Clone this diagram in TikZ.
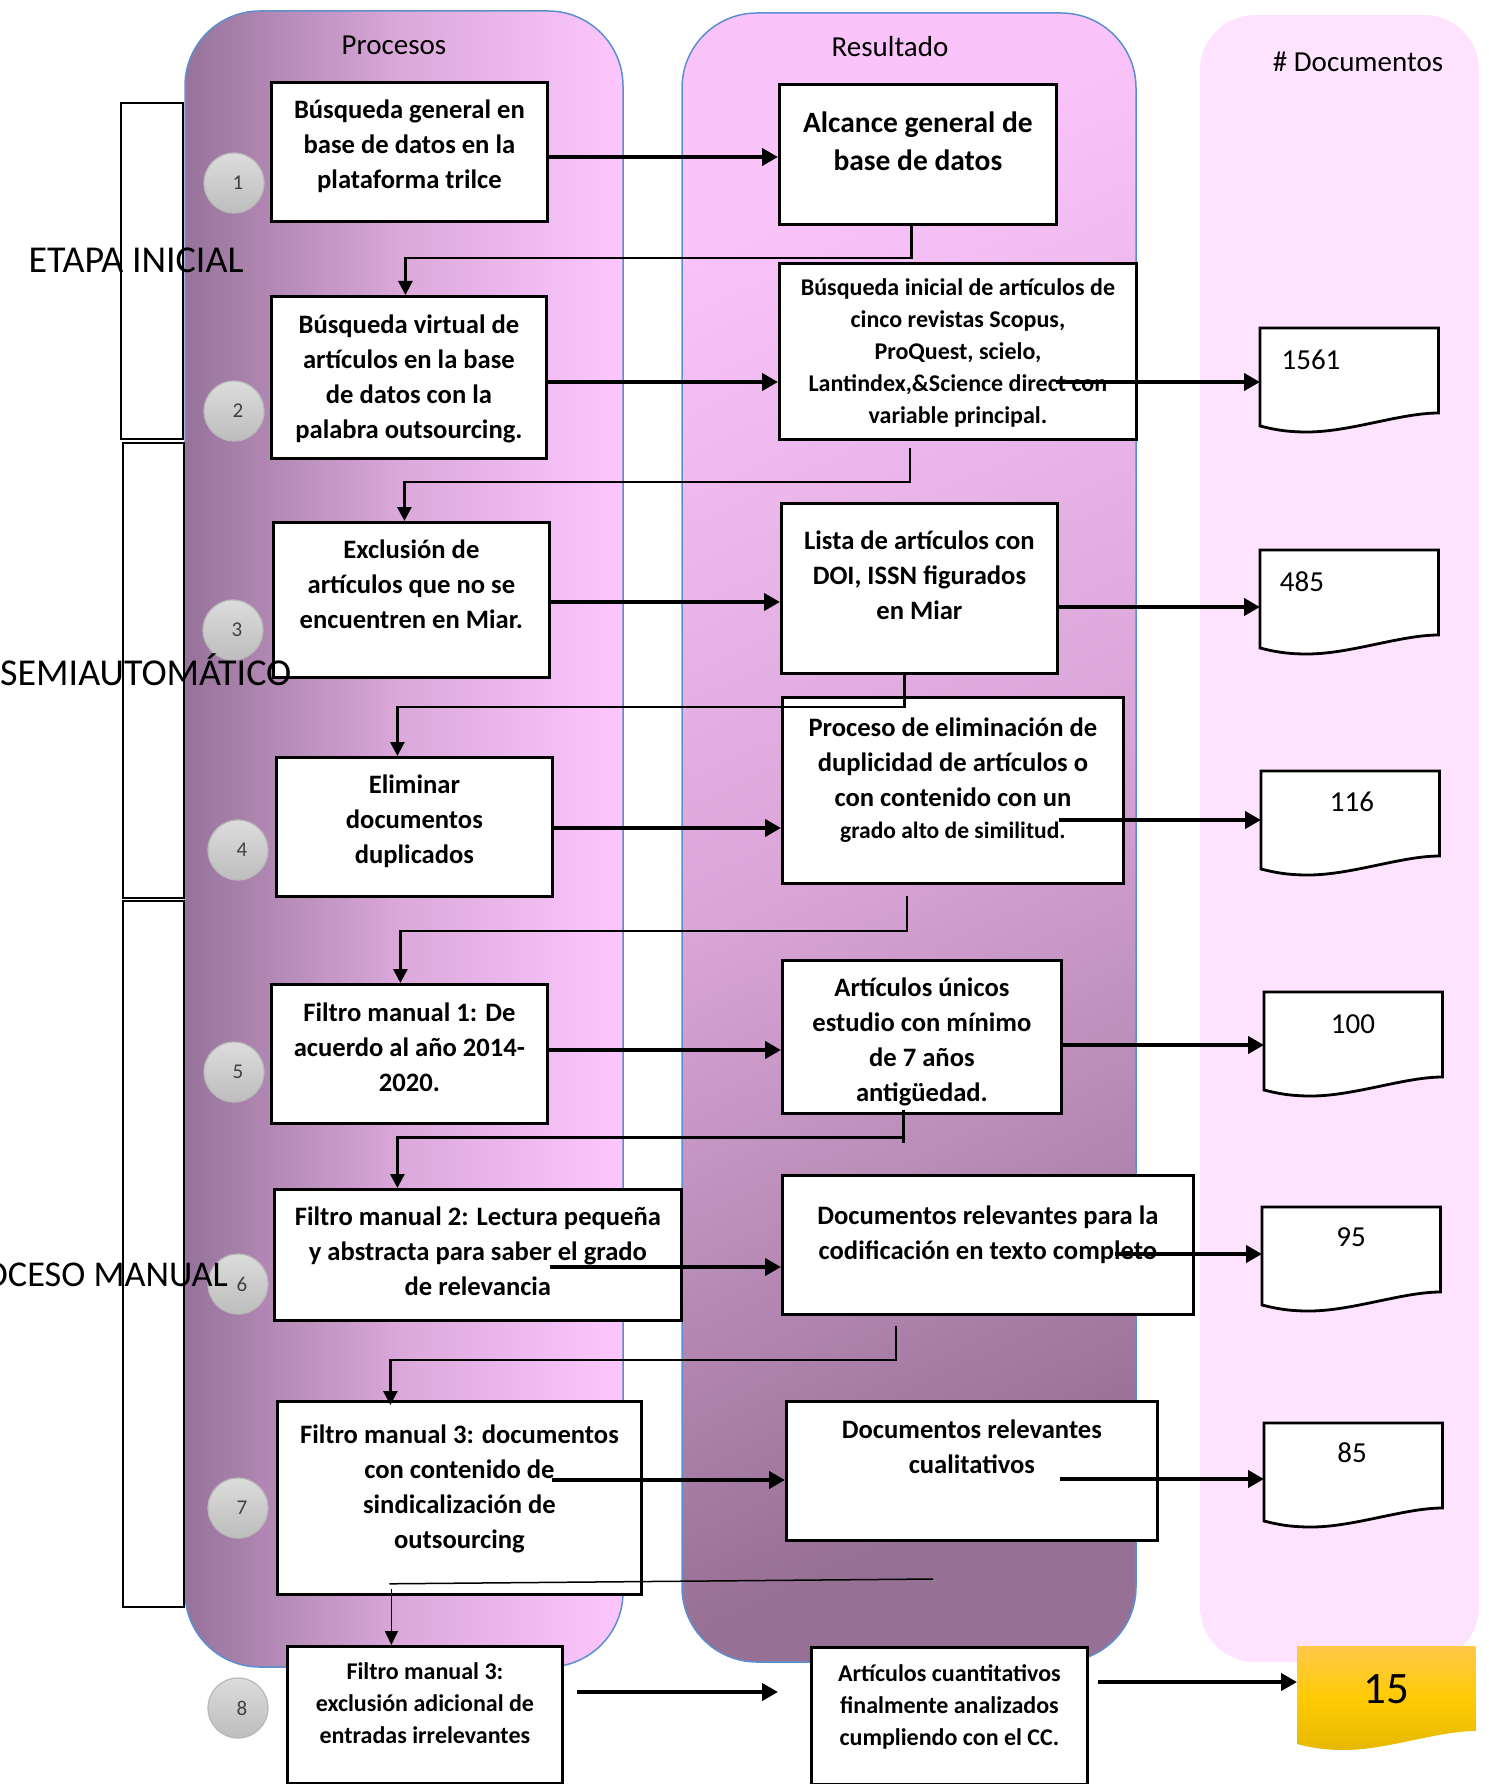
\documentclass[tikz,border=0pt]{standalone}
\usepackage{fontspec}
\setmainfont{Carlito}
\usetikzlibrary{arrows.meta,calc}
\definecolor{lanebd}{HTML}{5B8FD0}
\definecolor{pdark}{HTML}{96739A}
\definecolor{pmid}{HTML}{DCA9DB}
\definecolor{plight}{HTML}{FDC7FD}
\definecolor{rtop}{HTML}{FAC4FA}
\definecolor{rmid}{HTML}{D9A5D7}
\definecolor{rbot}{HTML}{977095}
\definecolor{doclane}{HTML}{FDE3FD}
\definecolor{ctop}{HTML}{DCDCDC}
\definecolor{cbot}{HTML}{BDBDBD}
\definecolor{cbd}{HTML}{B8B8B8}
\definecolor{ytop}{HTML}{FFC84A}
\definecolor{ymid}{HTML}{FFCB05}
\definecolor{ybot}{HTML}{E6B800}
\definecolor{numc}{HTML}{404040}

\newcommand\bxt[4]{\begin{minipage}[c][#2pt][t]{#1pt}\centering\rule{0pt}{#3pt}#4\par\end{minipage}}

\newcommand\docpath[2]{\path[#2] (#1.north west) -- (#1.north east) -- ($(#1.north east)+(0,85)$)
  .. controls +(-38,0) and +(43,0) .. ($(#1.north west)+(47,104)$)
  .. controls +(-22,0) and +(12,3) .. ($(#1.north west)+(0,98)$) -- cycle;}

\begin{document}
\begin{tikzpicture}[x=1pt,y=-1pt,
  bx/.style={draw, line width=2.8pt, fill=white, inner sep=0pt, anchor=north west,
    font=\bfseries\fontsize{26.6}{35}\selectfont},
  smalltxt/.style={font=\bfseries\fontsize{24}{32}\selectfont},
  bigtxt/.style={font=\bfseries\fontsize{29.5}{38}\selectfont},
  docnode/.style={minimum width=178pt, minimum height=104pt, inner sep=0pt, anchor=north west},
  hdr/.style={font=\fontsize{29}{34}\selectfont, inner sep=0pt, anchor=base},
  numtxt/.style={font=\fontsize{29}{34}\selectfont, inner sep=0pt, anchor=base},
  stagetxt/.style={font=\fontsize{38}{42}\selectfont, inner sep=0pt},
  circ/.style={circle, minimum size=60pt, inner sep=0pt, draw=cbd, line width=1.2pt,
    top color=ctop, bottom color=cbot, font=\fontsize{21}{24}\selectfont, text=numc},
  conn/.style={line width=2.8pt, -{Triangle[length=14pt,width=14pt]}},
  thinconn/.style={line width=1.5pt, -{Triangle[length=14pt,width=13pt]}},
  tarr/.style={line width=4.5pt, -{Triangle[length=16pt,width=17pt]}},
  brk/.style={line width=2.8pt, fill=white}
]
\useasboundingbox (0,0) rectangle (1488,1784);

% lanes
\draw[draw=lanebd, line width=1.5pt, rounded corners=75pt, left color=pdark, right color=plight, middle color=pmid]
  (185,11) rectangle (623,1667);
\draw[draw=lanebd, line width=1.5pt, rounded corners=75pt, top color=rtop, bottom color=rbot, middle color=rmid, shading angle=25]
  (682,13) rectangle (1136,1662);
\fill[doclane, rounded corners=55pt] (1200,15) rectangle (1479,1662);

% stage brackets
\draw[brk] (121,103) rectangle (183,439);
\draw[brk] (123,443) rectangle (184,898);
\draw[brk] (123,901) rectangle (184,1607);

% headers
\node[hdr] (hp) at (394,55) {Procesos};
\node[hdr] (hr) at (890,57) {Resultado};
\node[hdr] (hd) at (1358,72) {\# Documentos};

% process boxes
\node[bx] (b1) at (270,81) {\bxt{276}{139}{36}{Búsqueda general en\\base de datos en la\\plataforma trilce}};
\node[bx] (b2) at (270,295) {\bxt{275}{162}{37}{Búsqueda virtual de\\artículos en la base\\de datos con la\\palabra outsourcing.}};
\node[bx] (b3) at (272,521) {\bxt{276}{155}{36}{Exclusión de\\artículos que no se\\encuentren en Miar.}};
\node[bx] (b4) at (275,756) {\bxt{276}{139}{36}{Eliminar\\documentos\\duplicados}};
\node[bx] (b5) at (270,983) {\bxt{276}{139}{37}{Filtro manual 1: De\\acuerdo al año 2014-\\2020.}};
\node[bx] (b6) at (273,1188) {\bxt{407}{131}{36}{Filtro manual 2: Lectura pequeña\\y abstracta para saber el grado\\de relevancia}};
\node[bx] (b7) at (276,1400) {\bxt{364}{193}{42}{Filtro manual 3: documentos\\con contenido de\\sindicalización de\\outsourcing}};
\node[bx, smalltxt] (b8) at (286,1645) {\bxt{275}{137}{33}{Filtro manual 3:\\exclusión adicional de\\entradas irrelevantes}};

% result boxes
\node[bx, bigtxt] (r1) at (778,83) {\bxt{277}{140}{48}{Alcance general de\\base de datos}};
\node[bx, smalltxt] (r2) at (778,262) {\bxt{357}{176}{32}{Búsqueda inicial de artículos de\\cinco revistas Scopus,\\ProQuest, scielo,\\Lantindex,\&Science direct con\\variable principal.}};
\node[bx] (r3) at (780,502) {\bxt{276}{170}{46}{Lista de artículos con\\DOI, ISSN figurados\\en Miar}};
\node[bx] (r4) at (781,696) {\bxt{341}{186}{39}{Proceso de eliminación de\\duplicidad de artículos o\\con contenido con un\\[-3pt]{\fontsize{23.5}{32}\selectfont grado alto de similitud.}}};
\node[bx] (r5) at (781,959) {\bxt{279}{153}{36}{Artículos únicos\\estudio con mínimo\\de 7 años\\antigüedad.}};
\node[bx] (r6) at (781,1174) {\bxt{411}{139}{49}{Documentos relevantes para la\\codificación en texto completo}};
\node[bx] (r7) at (785,1400) {\bxt{371}{139}{37}{Documentos relevantes\\cualitativos}};
\node[bx, smalltxt] (r8) at (810,1646) {\bxt{276}{137}{34}{Artículos cuantitativos\\finalmente analizados\\cumpliendo con el CC.}};

% documents
\node[docnode] (d1) at (1260,328) {};
\node[docnode] (d2) at (1260,550) {};
\node[docnode] (d3) at (1261,771) {};
\node[docnode] (d4) at (1264,992) {};
\node[docnode] (d5) at (1262,1207) {};
\node[docnode] (d6) at (1264,1423) {};
\node[docnode] (d7) at (1297,1646) {};
\foreach \d in {d1,d2,d3,d4,d5,d6}{\docpath{\d}{draw, line width=2.8pt, fill=white}}
\docpath{d7}{top color=ytop, bottom color=ybot, middle color=ymid}
\node[numtxt] (t1) at (1311,369) {1561};
\node[numtxt] (t2) at (1302,591) {485};
\node[numtxt] (t3) at (1352,811) {116};
\node[numtxt] (t4) at (1353,1033) {100};
\node[numtxt] (t5) at (1351,1246) {95};
\node[numtxt] (t6) at (1352,1462) {85};
\node[numtxt, font=\fontsize{45}{50}\selectfont] (t7) at (1386,1703) {15};

% step circles
\node[circ] (n1) at (234,183) {\hspace*{8pt}1};
\node[circ] (n2) at (234,411) {\hspace*{8pt}2};
\node[circ] (n3) at (233,630) {\hspace*{8pt}3};
\node[circ] (n4) at (238,850) {\hspace*{8pt}4};
\node[circ] (n5) at (234,1072) {\hspace*{8pt}5};
\node[circ] (n6) at (238,1284) {\hspace*{8pt}6};
\node[circ] (n7) at (238,1508) {\hspace*{8pt}7};
\node[circ] (n8) at (238,1708) {\hspace*{8pt}8};

% stage labels
\node[stagetxt, anchor=base] (e1) at (136,273) {ETAPA INICIAL};
\node[stagetxt, anchor=base west] (e2) at (0,685) {SEMIAUTOMÁTICO};
\node[stagetxt, anchor=base east, font=\fontsize{36.3}{40}\selectfont] (e3) at (228,1286) {PROCESO MANUAL};

% down connectors
\draw[conn] ($(r1.south)+(-6.5,0)$) |- ($(b2.north)+(-3.5,-37)$) -- ($(b2.north)+(-3.5,0)$);
\coordinate (c2s) at (910,448);
\draw[conn] (c2s) |- ($(b3.north)+(-7,-39)$) -- ($(b3.north)+(-7,0)$);
\draw[conn] ($(r3.south)+(-15,0)$) |- ($(b4.north)+(-17,-49)$) -- ($(b4.north)+(-17,0)$);
\coordinate (c4s) at (907,896);
\draw[conn] (c4s) |- ($(b5.north)+(-9,-52)$) -- ($(b5.north)+(-9,0)$);
\draw[line width=2.8pt] ($(r5.south)+(-18.5,-5)$) -- ++(0,33);
\draw[conn] ($(r5.south)+(-18.5,23)$) -| ($(b6.north)+(-80.5,0)$);
\coordinate (c6s) at (896,1326);
\draw[conn] (c6s) |- ($(b7.north)+(-69,-40)$) -- ($(b7.north)+(-69,5)$);
\coordinate (c7e) at (933,1579);
\draw[line width=1.5pt] ($(b7.south)+(-70,-12)$) -- (c7e);
\draw[thinconn] ($(b7.south)+(-68,-7)$) -- ($(b8.north)+(-33.5,0)$);

% horizontal arrows
\draw[tarr] (b1.east |- 0,157) -- (r1.west |- 0,157);
\draw[tarr] (b2.east |- 0,382) -- (r2.west |- 0,382);
\coordinate (s3) at (1056,382);
\draw[tarr] (s3) -- (d1.west |- 0,382);
\draw[tarr] (b3.east |- 0,602) -- (r3.west |- 0,602);
\draw[tarr] (r3.east |- 0,607) -- (d2.west |- 0,607);
\draw[tarr] (b4.east |- 0,828) -- (r4.west |- 0,828);
\coordinate (s7) at (1059,820);
\draw[tarr] (s7) -- (d3.west |- 0,820);
\draw[tarr] (b5.east |- 0,1050) -- (r5.west |- 0,1050);
\draw[tarr] (r5.east |- 0,1045) -- (d4.west |- 0,1045);
\coordinate (s10) at (550,1267);
\draw[tarr] (s10) -- (r6.west |- 0,1267);
\coordinate (s11) at (1115,1254);
\draw[tarr] (s11) -- (d5.west |- 0,1254);
\coordinate (s12) at (552,1480);
\draw[tarr] (s12) -- (r7.west |- 0,1480);
\coordinate (s13) at (1060,1479);
\draw[tarr] (s13) -- (d6.west |- 0,1479);
\coordinate (s14a) at (577,1692);
\coordinate (s14b) at (778,1692);
\draw[tarr] (s14a) -- (s14b);
\coordinate (s15) at (1098,1682);
\draw[tarr] (s15) -- (d7.west |- 0,1682);
\end{tikzpicture}
\end{document}
